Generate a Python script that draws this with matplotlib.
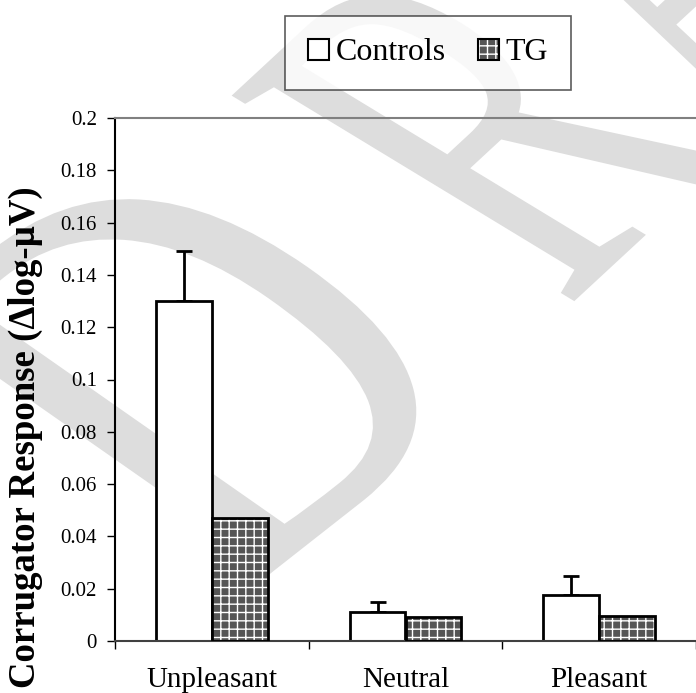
import numpy as np
import matplotlib
matplotlib.use('Agg')
import matplotlib.pyplot as plt
from matplotlib.patches import Patch, PathPatch
from matplotlib.textpath import TextPath
from matplotlib.font_manager import FontProperties
from matplotlib.transforms import Affine2D

plt.rcParams['font.family'] = ['Liberation Serif', 'DejaVu Serif']
plt.rcParams['hatch.linewidth'] = 1.0

categories = ['Unpleasant', 'Neutral', 'Pleasant']
controls = [0.130, 0.011, 0.0176]
controls_err = [0.019, 0.004, 0.0073]
tg = [0.047, 0.0093, 0.0096]
yticks = [0, 0.02, 0.04, 0.06, 0.08, 0.1, 0.12, 0.14, 0.16, 0.18, 0.2]

W, H = 696, 693
fig = plt.figure(figsize=(W/100, H/100), dpi=100)

# DRAFT watermark behind everything (stretched, rotated text outlines)
wm_font = FontProperties(family='Liberation Serif')
for s, sx, sy, rot, x0, y0 in [('D', 560, 760, 47, 231, 117),
                               ('RAFT', 420, 670, 51, 565, 511)]:
    tp = TextPath((0, 0), s, size=1, prop=wm_font)
    tr = Affine2D().scale(sx, sy).rotate_deg(rot).translate(x0, y0).scale(1, 0.75)
    fig.add_artist(PathPatch(tp, facecolor='#dddddd', edgecolor='none', zorder=-5, transform=tr))

ax = fig.add_axes([115/W, 1-641/H, (W-115)/W, (641-118)/H])
ax.set_facecolor('none')

x = np.arange(len(categories)) + 0.5
bw = 0.289

ax.bar(x - bw/2, controls, bw, color='white', edgecolor='black', linewidth=2, zorder=2)
ax.errorbar(x - bw/2, controls, yerr=[np.zeros(3), controls_err], fmt='none',
            ecolor='black', elinewidth=2, capsize=6, capthick=2, zorder=1)
ax.bar(x + bw/2, tg, bw, color='#555555', edgecolor='white', hatch='++', linewidth=0, zorder=2)
ax.bar(x + bw/2, tg, bw, fill=False, edgecolor='black', linewidth=2, zorder=3)

ax.set_xlim(0, 3)
ax.set_ylim(0, 0.2)
ax.set_yticks(yticks)
ax.set_yticklabels([f'{v:g}' for v in yticks])
ax.set_xticks([0, 1, 2, 3])
ax.set_xticklabels([])
ax.set_xticks(x, minor=True)
ax.set_xticklabels(categories, minor=True)
ax.tick_params(axis='y', direction='out', length=6, width=1, labelsize=15, pad=7)
ax.tick_params(axis='x', which='major', direction='out', length=6, width=1)
ax.tick_params(axis='x', which='minor', length=0, labelsize=21, pad=19)

ax.spines['right'].set_visible(False)
ax.spines['top'].set_color('#808080')
ax.spines['top'].set_linewidth(1.5)
ax.spines['left'].set_color('black')
ax.spines['left'].set_linewidth(1.5)
ax.spines['bottom'].set_color('#404040')
ax.spines['bottom'].set_linewidth(1.5)

ax.set_ylabel('Corrugator Response (\u0394log-\u00b5V)', fontsize=26.5, fontweight='bold')
ax.yaxis.label.set_verticalalignment('baseline')
ax.yaxis.set_label_coords(-0.1377, 0.389)

h_ctrl = Patch(facecolor='white', edgecolor='black', linewidth=1.5)
h_tg = (Patch(facecolor='#555555', edgecolor='white', hatch='++', linewidth=0),
        Patch(fill=False, edgecolor='black', linewidth=1.5))
leg = fig.legend([h_ctrl, h_tg], ['Controls', 'TG'], loc='center',
                 bbox_to_anchor=(428/W, 1-53/H), ncol=2, fontsize=23,
                 frameon=True, fancybox=False, edgecolor='#333333',
                 borderpad=0.7, handlelength=0.66, handleheight=0.66,
                 handletextpad=0.22, columnspacing=1.0, borderaxespad=0)
leg.get_frame().set_linewidth(1.2)

fig.savefig('out.png', dpi=100)
